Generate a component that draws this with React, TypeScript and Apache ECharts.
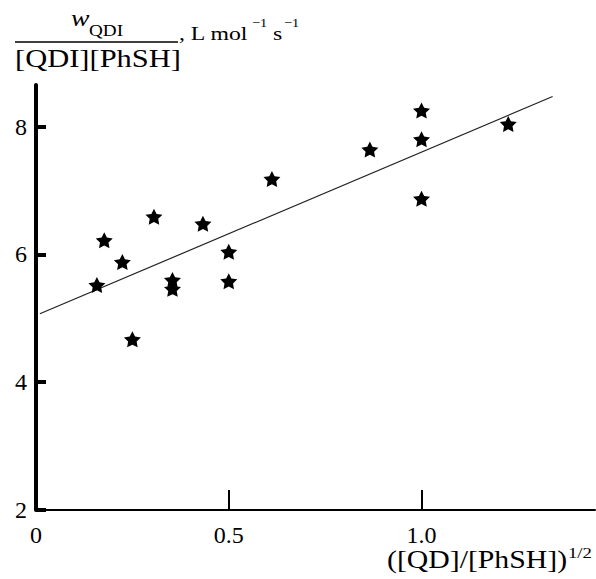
import React, { useEffect, useRef } from "react";
import * as echarts from "echarts";

// Measured points
const xValues = [0.158, 0.177, 0.224, 0.25, 0.306, 0.354, 0.354, 0.433, 0.5, 0.5, 0.612, 0.866, 1.0, 1.0, 1.0, 1.225];
const yValues = [5.52, 6.22, 5.88, 4.67, 6.59, 5.6, 5.46, 6.48, 6.04, 5.58, 7.18, 7.64, 8.25, 7.8, 6.87, 8.04];
// Fitted straight line (end points)
const fitX = [0.01, 1.34];
const fitY = [5.07, 8.47];
// Ticks
const xTicks = [0.5, 1.0];
const yTicks = [2, 4, 6, 8];

const INK = "#000";
const FONT = "'Liberation Serif', 'Times New Roman', serif";
const STAR =
  "path://M0,-10 L2.94,-4.05 L9.51,-3.09 L4.76,1.55 L5.88,8.09 L0,5 L-5.88,8.09 L-4.76,1.55 L-9.51,-3.09 L-2.94,-4.05 Z";

function txt(text: string, x: number, y: number, size: number, scaleX: number, italic = false) {
  return {
    type: "text",
    x,
    y,
    scaleX,
    silent: true,
    z: 100,
    style: {
      text,
      x: 0,
      y: 0,
      fontFamily: FONT,
      fontSize: size,
      fontStyle: italic ? "italic" : "normal",
      fill: INK,
      align: "left",
      verticalAlign: "middle",
      textAlign: "left",
      textVerticalAlign: "middle",
    },
  };
}

export default function App() {
  const ref = useRef<HTMLDivElement>(null);
  useEffect(() => {
    if (!ref.current) return;
    const chart = echarts.init(ref.current, null, { renderer: "svg" });
    const points = xValues.map((x, i) => [x, yValues[i]]);
    const line = fitX.map((x, i) => [x, fitY[i]]);
    chart.setOption({
      animation: false,
      backgroundColor: "#fff",
      grid: { left: 36, right: 1, top: 85, bottom: 69, containLabel: false },
      xAxis: {
        type: "value",
        min: 0,
        max: 1.45,
        interval: 0.5,
        axisLine: { show: true, onZero: false, lineStyle: { color: INK, width: 2 } },
        axisTick: { show: true, inside: true, length: 20, customValues: xTicks, lineStyle: { color: INK, width: 2 } },
        axisLabel: {
          show: true,
          showMaxLabel: false,
          margin: 13,
          fontFamily: FONT,
          fontSize: 24,
          color: INK,
          formatter: (v: number) =>
            Math.abs(v / 0.5 - Math.round(v / 0.5)) > 1e-6 ? "" : v === 0 ? "0" : v.toFixed(1),
        },
        splitLine: { show: false },
      },
      yAxis: {
        type: "value",
        min: 2,
        max: 8.65,
        interval: 2,
        axisLine: { show: true, onZero: false, lineStyle: { color: INK, width: 4 } },
        axisTick: { show: true, inside: true, length: 10, customValues: yTicks, lineStyle: { color: INK, width: 4 } },
        axisLabel: {
          show: true,
          showMaxLabel: false,
          margin: 9,
          fontFamily: FONT,
          fontSize: 24,
          color: INK,
          formatter: (v: number) => (Math.abs(v / 2 - Math.round(v / 2)) > 1e-6 ? "" : String(v)),
        },
        splitLine: { show: false },
      },
      series: [
        {
          type: "line",
          data: line,
          showSymbol: false,
          symbol: "none",
          silent: true,
          lineStyle: { color: "#222", width: 1.2 },
          z: 1,
        },
        {
          type: "scatter",
          data: points,
          symbol: STAR,
          symbolSize: [17, 16],
          itemStyle: { color: INK, opacity: 1 },
          z: 2,
        },
      ],
      graphic: [
        txt("w", 71, 17.9, 24, 1.15, true),
        txt("QDI", 89, 30.9, 16, 1.2),
        {
          type: "line",
          silent: true,
          z: 100,
          shape: { x1: 15, y1: 42, x2: 178, y2: 42 },
          style: { stroke: INK, lineWidth: 1.5 },
        },
        txt("[QDI][PhSH]", 15, 58.6, 25, 1.22),
        txt(", L mol", 179, 33.6, 19, 1.25),
        txt("\u22121", 252, 22.6, 13, 1.1),
        txt("s", 273, 33.6, 19, 1.25),
        txt("\u22121", 284, 22.6, 13, 1.1),
        txt("([QD]/[PhSH])", 387, 559.6, 25, 1.19),
        txt("1/2", 568, 553, 15, 1.25),
      ],
    });
    return () => chart.dispose();
  }, []);
  return (
    <div
      ref={ref}
      style={{ position: "fixed", left: 0, top: 0, width: 596, height: 579 }}
    />
  );
}
